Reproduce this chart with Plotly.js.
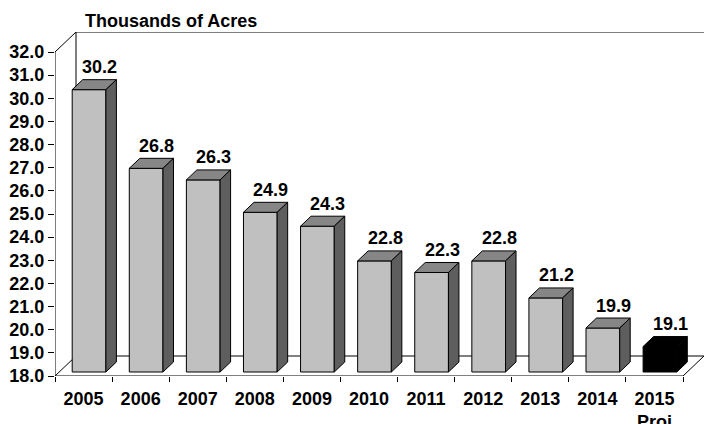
<!DOCTYPE html>
<html>
<head>
<meta charset="utf-8">
<script src="https://cdn.plot.ly/plotly-3.0.1.min.js"></script>
<style>html,body{margin:0;padding:0;background:#fff;}#chart{width:704px;height:424px;}</style>
</head>
<body>
<div id="chart"></div>
<script>
// ---- data ----
const categories = ['2005','2006','2007','2008','2009','2010','2011','2012','2013','2014','2015'];
const tickLabels = ['2005','2006','2007','2008','2009','2010','2011','2012','2013','2014','2015<br>Proj'];
const values = [30.2, 26.8, 26.3, 24.9, 24.3, 22.8, 22.3, 22.8, 21.2, 19.9, 19.1];
const isProjection = [false,false,false,false,false,false,false,false,false,false,true];
const yTicks = [18,19,20,21,22,23,24,25,26,27,28,29,30,31,32];

// ---- geometry (oblique 3D projection, in pixels, converted to axis units) ----
const W = 704, H = 424;
const M = {l: 55, r: 0, t: 32, b: 48};
const plotW = W - M.l - M.r, plotH = H - M.t - M.b;
const yMin = 18, yMax = 32;
const xMin = -0.5, xFront = categories.length - 0.5;
const pxPerX = (683 - 55) / categories.length;
const pxPerY = (376 - 52) / (yMax - yMin);
const xRange = [xMin, xMin + plotW / pxPerX];
const yRange = [yMin, yMin + plotH / pxPerY];
const wdx = 21 / pxPerX, wdy = 20 / pxPerY;       // wall depth
const fdx = 5.5 / pxPerX, fdy = 4 / pxPerY;       // bar front offset
const bdx = 10.5 / pxPerX, bdy = 10 / pxPerY;     // bar depth
const hw = 33.7 / 2 / pxPerX;                     // bar half width

const font = {family: 'Arial, "Liberation Sans", sans-serif', size: 18, color: '#000', weight: 'bold'};
const traces = [];

// walls / floor lines
const wx = [], wy = [];
function seg(x0,y0,x1,y1){ wx.push(x0,x1,null); wy.push(y0,y1,null); }
seg(xMin, yMin, xMin, yMax);
seg(xMin, yMax, xMin + wdx, yMax + wdy);
seg(xMin + wdx, yMax + wdy, xRange[1], yMax + wdy);
seg(xMin + wdx, yMin + wdy, xMin + wdx, yMax + wdy);
seg(xMin + wdx, yMin + wdy, xFront + wdx, yMin + wdy);
seg(xMin, yMin, xMin + wdx, yMin + wdy);
seg(xMin, yMin, xFront, yMin);
seg(xFront, yMin, xFront + wdx, yMin + wdy);
traces.push({type:'scatter', mode:'lines', x: wx, y: wy, line:{color:'#000', width:1},
  hoverinfo:'skip', showlegend:false, cliponaxis:false});

// bars
values.forEach((v, k) => {
  const x0 = k + fdx - hw, x1 = k + fdx + hw;
  const yb = yMin + fdy, yt = v + fdy;
  const proj = isProjection[k];
  const cFront = proj ? '#000' : '#C0C0C0';
  const cTop = proj ? '#000' : '#868686';
  const cSide = proj ? '#000' : '#5E5E5E';
  const poly = (xs, ys, c) => traces.push({type:'scatter', mode:'lines', fill:'toself', fillcolor:c,
    x: xs, y: ys, line:{color:'#000', width:1}, hoverinfo:'skip', showlegend:false, cliponaxis:false});
  poly([x0,x1,x1,x0,x0],[yb,yb,yt,yt,yb], cFront);
  poly([x0,x1,x1+bdx,x0+bdx,x0],[yt,yt,yt+bdy,yt+bdy,yt], cTop);
  poly([x1,x1+bdx,x1+bdx,x1,x1],[yb,yb+bdy,yt+bdy,yt,yb], cSide);
});

// dummy trace for boundary tick axis
traces.push({type:'scatter', mode:'markers', x:[0], y:[yMin], xaxis:'x2', yaxis:'y',
  marker:{opacity:0}, hoverinfo:'skip', showlegend:false});

const boundaries = [];
for (let i = 0; i <= categories.length; i++) boundaries.push(i - 0.5);

const annotations = values.map((v, k) => ({
  x: k, y: v, xref:'x', yref:'y', text: v.toFixed(1), showarrow:false,
  xanchor:'center', yanchor:'middle', xshift: 16, yshift: 26.5, font: font
}));

const layout = {
  width: W, height: H,
  margin: M,
  paper_bgcolor:'#fff', plot_bgcolor:'#fff',
  showlegend:false,
  title: {text:'Thousands of Acres', font: font, xref:'container', yref:'container',
    x: 85 / W, xanchor:'left', y: 1 - 21 / H, yanchor:'middle'},
  xaxis: {range: xRange, showgrid:false, zeroline:false, showline:false,
    tickmode:'array', tickvals: categories.map((c,i)=>i), ticktext: tickLabels,
    ticks:'', tickfont: font, ticklabelstandoff: 10, fixedrange:true},
  xaxis2: {range: xRange, overlaying:'x', anchor:'y', side:'bottom', showgrid:false, zeroline:false,
    showline:false, tickmode:'array', tickvals: boundaries, ticks:'outside', ticklen:5,
    tickcolor:'#000', tickwidth:1, showticklabels:false, fixedrange:true},
  yaxis: {range: yRange, showgrid:false, zeroline:false, showline:false,
    tickmode:'array', tickvals: yTicks, ticktext: yTicks.map(t=>t.toFixed(1)),
    ticks:'outside', ticklen:6, tickcolor:'#000', tickwidth:1, tickfont: font, fixedrange:true},
  annotations: annotations
};

Plotly.newPlot('chart', traces, layout, {staticPlot:true, displayModeBar:false});
</script>
</body>
</html>
